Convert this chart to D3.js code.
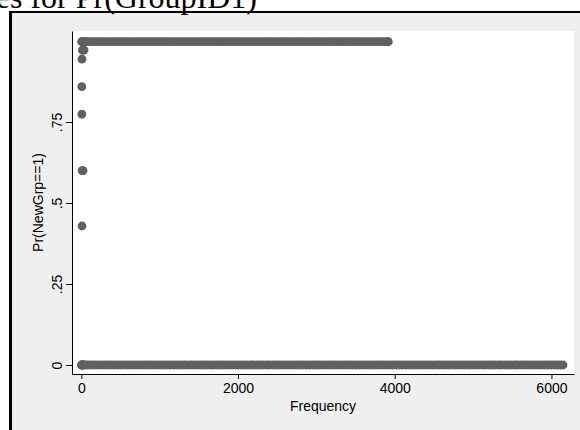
<!DOCTYPE html>
<html>
<head>
<meta charset="utf-8">
<script src="https://cdn.jsdelivr.net/npm/d3@7"></script>
<style>
  html, body { margin: 0; padding: 0; background: #ffffff; overflow: hidden; }
  svg { display: block; }
</style>
</head>
<body>
<svg id="chart" width="580" height="430"></svg>
<script>
// Groups whose predicted probability is (about) zero, by frequency
const freqAtZero = [1, 3, 8, 14, 22, 31, 47, 78, 112, 149, 187, 226, 268, 305, 344, 386, 421, 463, 502, 540,
  583, 619, 661, 700, 738, 781, 817, 858, 897, 936, 979, 1015, 1056, 1094, 1133, 1177, 1212, 1254, 1293, 1331,
  1376, 1410, 1452, 1491, 1530, 1572, 1609, 1650, 1688, 1729, 1770, 1806, 1848, 1887, 1925, 1968, 2004, 2045,
  2085, 2123, 2166, 2201, 2243, 2282, 2320, 2364, 2399, 2441, 2479, 2518, 2561, 2597, 2638, 2677, 2716, 2759,
  2794, 2836, 2874, 2913, 2957, 2992, 3033, 3072, 3111, 3154, 3190, 3231, 3269, 3308, 3352, 3387, 3428, 3467,
  3506, 3549, 3585, 3626, 3664, 3703, 3747, 3782, 3823, 3862, 3901, 3944, 3980, 4021, 4059, 4098, 4142, 4177,
  4218, 4257, 4296, 4339, 4375, 4416, 4454, 4493, 4537, 4572, 4613, 4652, 4691, 4734, 4770, 4811, 4849, 4888,
  4932, 4967, 5008, 5047, 5086, 5129, 5165, 5206, 5244, 5283, 5327, 5362, 5403, 5442, 5481, 5524, 5560, 5601,
  5639, 5678, 5722, 5757, 5798, 5837, 5876, 5919, 5955, 5996, 6034, 6073, 6112, 6148];
const prAtZero = 0;

// Groups whose predicted probability is (about) one, by frequency
const freqAtOne = [5, 9, 16, 27, 44, 71, 103, 141, 180, 222, 259, 297, 339, 377, 415, 456, 494, 533, 574, 611,
  650, 692, 729, 768, 809, 846, 885, 927, 964, 1003, 1044, 1081, 1121, 1162, 1199, 1238, 1280, 1317, 1356, 1397,
  1434, 1473, 1515, 1552, 1591, 1632, 1669, 1709, 1750, 1787, 1826, 1868, 1905, 1944, 1985, 2022, 2061, 2103,
  2140, 2179, 2220, 2257, 2297, 2338, 2375, 2414, 2456, 2493, 2532, 2573, 2610, 2649, 2691, 2728, 2767, 2808,
  2845, 2885, 2926, 2963, 3002, 3044, 3081, 3120, 3161, 3198, 3237, 3279, 3316, 3355, 3396, 3433, 3473, 3514,
  3551, 3590, 3632, 3669, 3708, 3749, 3786, 3825, 3866, 3901, 3918];
const prAtOne = 0.998;

// Small groups with intermediate probabilities
const midFreq = [14, 22, 35, 8, 6, 7, 10, 22, 9];
const midPr   = [0.972, 0.972, 0.972, 0.944, 0.859, 0.774, 0.600, 0.600, 0.429];

// Axis ticks
const xTicks = [0, 2000, 4000, 6000];
const yTicks = [0, 0.25, 0.5, 0.75];
const yTickLabels = ["0", ".25", ".5", ".75"];

const titleText = "es for Pr(GroupID1)";
const xTitle = "Frequency";
const yTitle = "Pr(NewGrp==1)";

const svg = d3.select("#chart");
const sans = "'Liberation Sans', Arial, sans-serif";

// outer frame
svg.append("rect").attr("x", 9).attr("y", 11).attr("width", 600).attr("height", 450).attr("fill", "#000");
svg.append("rect").attr("x", 12).attr("y", 13).attr("width", 600).attr("height", 450).attr("fill", "#efefef");

// title
svg.append("text")
  .attr("x", 257).attr("y", 8)
  .attr("text-anchor", "end")
  .attr("font-family", "'Liberation Serif', 'Times New Roman', serif")
  .attr("font-size", 32)
  .attr("fill", "#000")
  .text(titleText);

const plot = { left: 72, right: 574, top: 31, bottom: 374 };

svg.append("rect")
  .attr("x", plot.left).attr("y", plot.top)
  .attr("width", plot.right - plot.left).attr("height", plot.bottom - plot.top)
  .attr("fill", "#fff");

const x = d3.scaleLinear().domain([-119, 6288]).range([plot.left, plot.right]);
const y = d3.scaleLinear().domain([-0.0278, 1.0309]).range([plot.bottom, plot.top]);

const points = []
  .concat(freqAtZero.map(f => ({ f, p: prAtZero })))
  .concat(freqAtOne.map(f => ({ f, p: prAtOne })))
  .concat(midFreq.map((f, i) => ({ f, p: midPr[i] })));

svg.append("g").selectAll("circle")
  .data(points)
  .join("circle")
  .attr("cx", d => x(d.f))
  .attr("cy", d => y(d.p))
  .attr("r", 4.4)
  .attr("fill", "#606060");

// x axis
const xAxis = svg.append("g")
  .attr("transform", `translate(0,${plot.bottom})`)
  .call(d3.axisBottom(x).tickValues(xTicks).tickFormat(d3.format("d")).tickSize(5).tickPadding(4).tickSizeOuter(0));
xAxis.select(".domain").attr("stroke", "#000");
xAxis.selectAll("text").attr("font-family", sans).attr("font-size", 14).attr("fill", "#000");

// y axis with rotated labels
const yAxis = svg.append("g")
  .attr("transform", `translate(${plot.left},0)`)
  .call(d3.axisLeft(y).tickValues(yTicks).tickFormat((d, i) => yTickLabels[i]).tickSize(6).tickSizeOuter(0));
yAxis.select(".domain").attr("stroke", "#000");
yAxis.selectAll("text")
  .attr("font-family", sans).attr("font-size", 14).attr("fill", "#000")
  .attr("text-anchor", "middle")
  .attr("x", null).attr("dy", null)
  .attr("transform", "translate(-10,0) rotate(-90)");

// axis titles
svg.append("text")
  .attr("x", (plot.left + plot.right) / 2).attr("y", 411)
  .attr("text-anchor", "middle")
  .attr("font-family", sans).attr("font-size", 14).attr("fill", "#000")
  .text(xTitle);

svg.append("text")
  .attr("transform", `translate(43,${(plot.top + plot.bottom) / 2}) rotate(-90)`)
  .attr("text-anchor", "middle")
  .attr("font-family", sans).attr("font-size", 14).attr("fill", "#000")
  .text(yTitle);
</script>
</body>
</html>
